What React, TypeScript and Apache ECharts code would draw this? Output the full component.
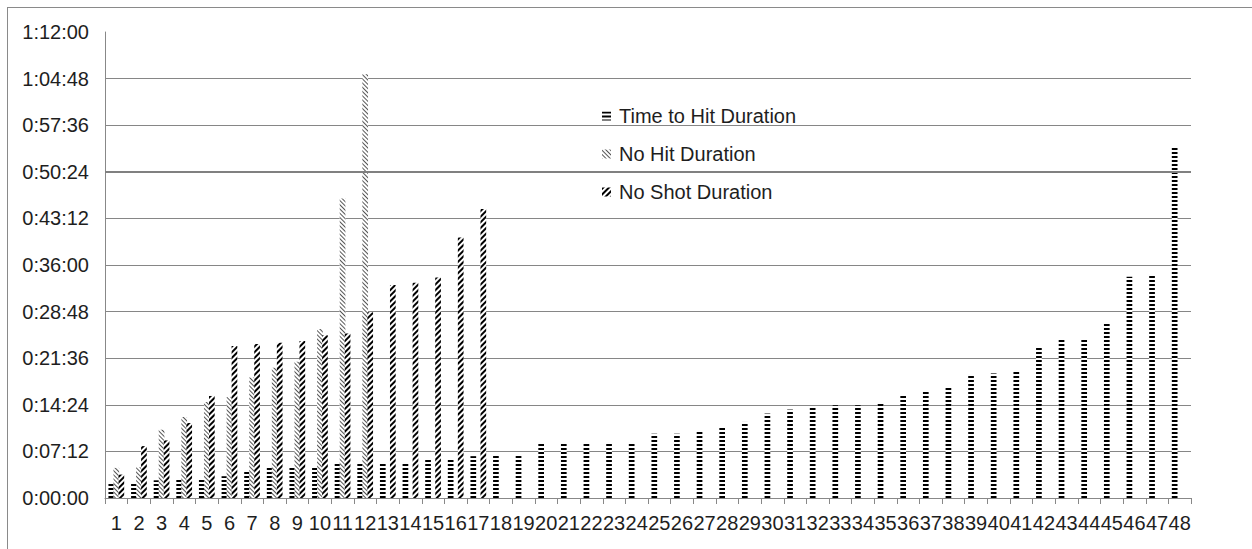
import React, { useEffect, useRef } from "react";
import * as echarts from "echarts";

const categories: string[] = Array.from({ length: 48 }, (_, i) => String(i + 1));

// durations in seconds
const timeToHit: number[] = [
  140, 140, 164, 174, 174, 202, 257, 285, 285, 285, 316, 326, 323, 323, 360, 360, 388, 405, 405, 512,
  512, 512, 512, 512, 596, 596, 621, 658, 705, 783, 820, 849, 861, 861, 878, 960, 988, 1034, 1137, 1155,
  1183, 1406, 1480, 1480, 1629, 2050, 2075, 3245,
];
const noHit: (number | null)[] = [
  279, 285, 633, 751, 890, 937, 1117, 1207, 1263, 1567, 2777, 3928,
];
const noShot: (number | null)[] = [
  217, 481, 534, 695, 946, 1408, 1427, 1439, 1455, 1508, 1526, 1722, 1975, 1996, 2043, 2416, 2678,
];

const seriesNames = ["Time to Hit Duration", "No Hit Duration", "No Shot Duration"];
const yMax = 4320;
const yInterval = 432;
const heavyGridValue = 3024;

function fmt(v: number): string {
  const h = Math.floor(v / 3600);
  const m = Math.floor((v % 3600) / 60);
  const s = Math.round(v % 60);
  return `${h}:${String(m).padStart(2, "0")}:${String(s).padStart(2, "0")}`;
}

function pad(arr: (number | null)[]): (number | null)[] {
  return categories.map((_, i) => (i < arr.length ? arr[i] : null));
}

const FONT = "Liberation Sans";

export default function App() {
  const ref = useRef<HTMLDivElement>(null);
  useEffect(() => {
    if (!ref.current) return;
    const chart = echarts.init(ref.current, undefined, { renderer: "svg" });
    const barW = 5.7;
    chart.setOption({
      animation: false,
      backgroundColor: "#fff",
      grid: { left: 105, right: 61, top: 32, bottom: 51, containLabel: false },
      legend: {
        orient: "vertical",
        left: 597,
        top: 101,
        itemGap: 18,
        itemWidth: 9,
        itemHeight: 9,
        icon: "rect",
        textStyle: { fontFamily: FONT, fontSize: 20, color: "#1e1e1e", padding: [0, 0, 0, 3] },
        data: seriesNames,
      },
      xAxis: {
        type: "category",
        data: categories,
        axisLine: { show: true, lineStyle: { color: "#888", width: 1 } },
        axisTick: { show: true, alignWithLabel: false, length: 6, lineStyle: { color: "#888" } },
        axisLabel: { interval: 0, fontFamily: FONT, fontSize: 20, color: "#1e1e1e", margin: 15 },
        splitLine: { show: false },
      },
      yAxis: {
        type: "value",
        min: 0,
        max: yMax,
        interval: yInterval,
        axisLine: { show: true, lineStyle: { color: "#888", width: 1 } },
        axisTick: { show: false },
        axisLabel: { fontFamily: FONT, fontSize: 20, color: "#1e1e1e", margin: 16, formatter: (v: number) => fmt(v) },
        splitLine: { show: true, showMaxLine: false, lineStyle: { color: "#868686", width: 1 } },
      },
      graphic: [
        { type: "line", shape: { x1: 7, y1: 7.5, x2: 1252, y2: 7.5 }, style: { stroke: "#8a8a8a", lineWidth: 1 } },
        { type: "line", shape: { x1: 7.5, y1: 7, x2: 7.5, y2: 549 }, style: { stroke: "#8a8a8a", lineWidth: 1 } },
      ],
      series: [
        {
          name: seriesNames[0],
          type: "bar",
          barWidth: barW,
          data: timeToHit,
          itemStyle: {
            color: "#fff",
            decal: { symbol: "rect", symbolSize: 1, dashArrayX: [1, 0], dashArrayY: [2, 2], rotation: 0, color: "#000" },
          },
          markLine: {
            silent: true,
            symbol: ["none", "none"],
            label: { show: false },
            lineStyle: { color: "#808080", width: 2, type: "solid" },
            data: [{ yAxis: heavyGridValue }],
          },
        },
        {
          name: seriesNames[1],
          type: "bar",
          barWidth: barW,
          data: pad(noHit),
          itemStyle: {
            color: "#fff",
            decal: { symbol: "rect", symbolSize: 1, dashArrayX: [1, 0], dashArrayY: [1, 2], rotation: Math.PI / 4, color: "#555" },
          },
        },
        {
          name: seriesNames[2],
          type: "bar",
          barWidth: barW,
          barGap: "-12%",
          data: pad(noShot),
          itemStyle: {
            color: "#fff",
            decal: { symbol: "rect", symbolSize: 1, dashArrayX: [1, 0], dashArrayY: [2, 2], rotation: -Math.PI / 4, color: "#000" },
          },
        },
      ],
    });
    return () => chart.dispose();
  }, []);
  return <div ref={ref} style={{ position: "fixed", left: 0, top: 0, width: 1252, height: 549 }} />;
}
